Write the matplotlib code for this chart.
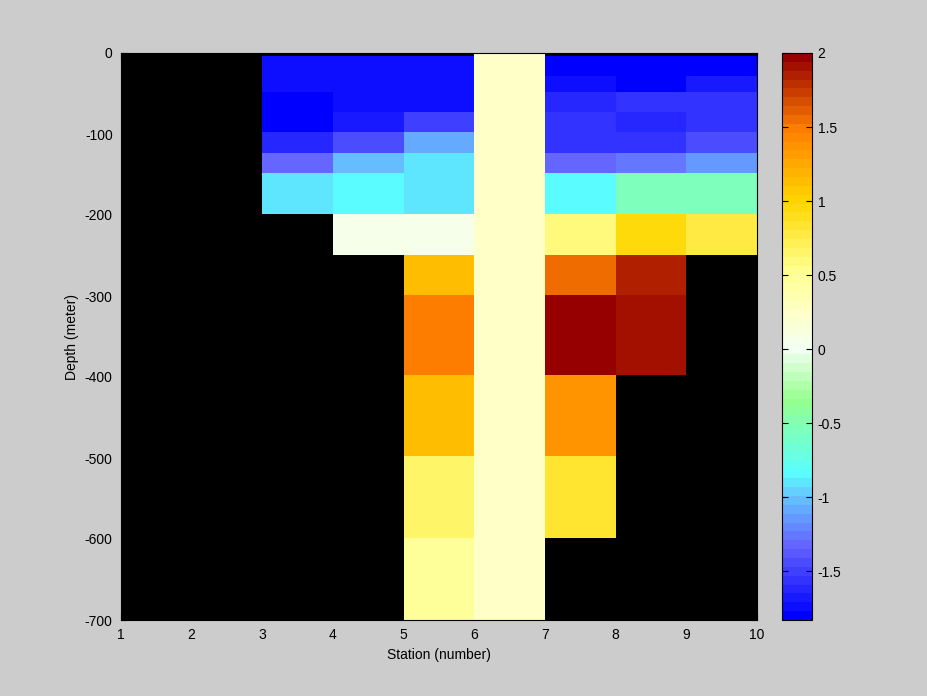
import numpy as np
import matplotlib
matplotlib.use('Agg')
import matplotlib.pyplot as plt
from matplotlib.colors import LinearSegmentedColormap

plt.rcParams['font.family'] = ['Liberation Sans', 'DejaVu Sans']
plt.rcParams['axes.unicode_minus'] = False

nan = np.nan
# station edges and depth edges of the cells
stations = [1, 2, 3, 4, 5, 6, 7, 8, 9, 10]
depths = [-4, -28, -48, -73, -98, -123, -148, -199, -249, -299, -398, -498, -599, -700]

# cell values, one list per station column (top to bottom)
st1 = [nan] * 13
st2 = [nan] * 13
st3 = [-1.74, -1.74, -1.82, -1.82, -1.62, -1.31, -0.90] + [nan] * 6
st4 = [-1.74, -1.74, -1.74, -1.68, -1.44, -1.00, -0.85, 0.03] + [nan] * 5
st5 = [-1.74, -1.74, -1.74, -1.50, -1.08, -0.89, -0.89, 0.03, 1.12, 1.50, 1.12, 0.68, 0.45]
st6 = [nan] * 13
st7 = [-1.82, -1.74, -1.62, -1.56, -1.56, -1.33, -0.85, 0.58, 1.54, 1.98, 1.385, 0.81, nan]
st8 = [-1.82, -1.82, -1.56, -1.62, -1.56, -1.27, -0.55, 0.94, 1.85, 1.91, nan, nan, nan]
st9 = [-1.82, -1.68, -1.56, -1.56, -1.44, -1.16, -0.55, 0.775, nan, nan, nan, nan, nan]

# land column (station 6 to 7)
land_x = [6, 7]
land_depth = [0, -700]

clim = (-1.83, 2)
cb_ticks = [-1.5, -1, -0.5, 0, 0.5, 1, 1.5, 2]

# colour map
anchors = [(-1.83, (0, 0, 255)), (-1.35, (100, 100, 255)), (-1.0, (100, 200, 255)),
           (-0.85, (90, 255, 255)), (-0.35, (150, 255, 140)), (0.0, (242, 255, 242)),
           (0.25, (255, 255, 200)), (0.55, (255, 255, 140)), (1.0, (255, 215, 0)),
           (1.5, (255, 128, 0)), (2.0, (150, 0, 0))]
cmap = LinearSegmentedColormap.from_list(
    'cb', [((v - clim[0]) / (clim[1] - clim[0]), tuple(c / 255 for c in rgb)) for v, rgb in anchors], N=64)

data = np.array([st1, st2, st3, st4, st5, st6, st7, st8, st9]).T

fig = plt.figure(figsize=(9.28, 6.96), dpi=100, facecolor='#cccccc')
ax = fig.add_axes([121 / 928, 76 / 696, 636 / 928, 567 / 696])
ax.set_facecolor('black')
ax.set_axisbelow(True)
mesh = ax.pcolormesh(stations, depths, np.ma.masked_invalid(data), cmap=cmap,
                     vmin=clim[0], vmax=clim[1], antialiased=False, edgecolors='none')
ax.fill_between(land_x, land_depth[0], land_depth[1], color='#ffffc8', linewidth=0,
                antialiased=False)
ax.set_xlim(1, 10)
ax.set_ylim(-700, 0)
ax.set_xticks(range(1, 11))
ax.set_yticks(range(-700, 1, 100))
ax.tick_params(direction='in', top=True, right=True, labelsize=10, pad=6, length=4,
               color='black')
ax.set_xlabel('Station (number)', fontsize=10)
ax.set_ylabel('Depth (meter)', fontsize=10)

cax = fig.add_axes([782 / 928, 76 / 696, 30 / 928, 567 / 696])
cb = fig.colorbar(mesh, cax=cax, ticks=cb_ticks)
cb.ax.set_yticklabels([f'{t:g}' for t in cb_ticks])
cax.tick_params(direction='in', left=True, right=True, labelsize=10, length=4, pad=4)
cb.outline.set_edgecolor('black')

fig.savefig('out.png', dpi=100, facecolor=fig.get_facecolor())
